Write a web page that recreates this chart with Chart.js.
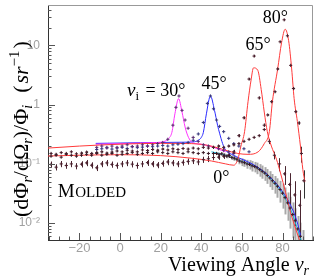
<!DOCTYPE html>
<html><head><meta charset="utf-8">
<script src="https://cdn.jsdelivr.net/npm/chart.js@4.4.1/dist/chart.umd.min.js"></script>
<style>html,body{margin:0;padding:0;background:#fff;}#wrap{width:318px;height:277px;position:relative;}</style>
</head><body><div id="wrap"><canvas id="c"></canvas></div>
<script>
// ---- axis ticks ----
const xTicks = [-20, 0, 20, 40, 60, 80];
const xTickLabels = ['−20', '0', '20', '40', '60', '80'];
const yTicks = [0.01, 0.1, 1, 10];
const yTickLabels = ['10⁻²', '10⁻¹', '1', '10'];

// ---- model curves ----
const m0X = [45, 48, 52, 56, 60, 64, 68, 72, 76, 79, 82, 84, 86, 88, 89.5];
const m0Y = [0.16, 0.152, 0.14, 0.125, 0.11, 0.097, 0.085, 0.066, 0.047, 0.0355, 0.024, 0.017, 0.011, 0.0068, 0.0048];

const m30X = [-12, -5, 0, 5, 10, 15, 20, 22.5, 24, 25.5, 27, 28.8, 30.5, 32, 33, 34.5, 36, 40, 44, 48, 52];
const m30Y = [0.215, 0.218, 0.22, 0.222, 0.225, 0.228, 0.232, 0.245, 0.27, 0.34, 0.7, 1.26, 0.75, 0.42, 0.32, 0.25, 0.225, 0.215, 0.2, 0.18, 0.16];

const m45X = [-12, 0, 10, 20, 30, 36, 38.5, 40, 41, 42.5, 44.5, 46.5, 48, 49, 50.5, 52, 55, 60, 65, 70, 75, 80, 84, 87, 89];
const m45Y = [0.222, 0.225, 0.228, 0.23, 0.232, 0.235, 0.25, 0.28, 0.34, 0.7, 1.4, 0.8, 0.45, 0.33, 0.22, 0.17, 0.145, 0.12, 0.1, 0.078, 0.055, 0.034, 0.02, 0.011, 0.006];

const m65X = [-35.5, -20, 0, 20, 35, 45, 52, 56, 58, 59.5, 61.3, 63, 64.5, 65.7, 67.8, 69.5, 71, 72.5, 74.5, 77, 79, 81.5, 84, 86.5, 88.5];
const m65Y = [0.136, 0.14, 0.143, 0.138, 0.125, 0.112, 0.1, 0.095, 0.12, 0.2, 0.35, 1.12, 2.6, 4.18, 3.8, 1.8, 0.75, 0.35, 0.2, 0.12, 0.07, 0.033, 0.015, 0.008, 0.005];

const m80X = [-35.5, -20, 0, 20, 35, 45, 52, 58, 63, 68, 71, 73.5, 75, 77.6, 79.5, 81.3, 83, 84.5, 85.7, 87.3, 88.8, 90, 91];
const m80Y = [0.185, 0.2, 0.215, 0.222, 0.22, 0.2, 0.17, 0.15, 0.145, 0.16, 0.22, 0.35, 1.12, 4.0, 11, 18.7, 12, 4.0, 1.27, 0.52, 0.2, 0.08, 0.05];

// ---- measured data ----
const d0X = [-34, -31.5, -29, -26.5, -24, -21.5, -19, -16.5, -14, -11.5, -9, -6.5, -4, -1.5, 1, 3.5, 6, 8.5, 11, 13.5, 16, 18.5, 21, 23.5, 26, 28.5, 31, 33.5, 36, 38.5, 41, 43.5, 46,
  47.5, 48.75, 50, 51.25, 52.5, 53.75, 55, 56.25, 57.5, 58.75, 60, 61.25, 62.5, 63.75, 65, 66.25, 67.5, 68.75, 70, 71.25, 72.5, 73.75, 75, 76.25, 77.5, 78.75, 80, 81.25, 82.5, 83.75, 85, 86.25, 87.5, 88.75, 90];
const d0Y = [0.135, 0.14, 0.13, 0.145, 0.14, 0.135, 0.14, 0.145, 0.14, 0.15, 0.14, 0.145, 0.15, 0.14, 0.145, 0.15, 0.155, 0.145, 0.15, 0.155, 0.15, 0.16, 0.155, 0.15, 0.16, 0.155, 0.15, 0.16, 0.155, 0.15, 0.155, 0.15, 0.15,
  0.15, 0.145, 0.148, 0.14, 0.135, 0.138, 0.128, 0.125, 0.12, 0.112, 0.108, 0.105, 0.1, 0.098, 0.093, 0.09, 0.086, 0.08, 0.075, 0.07, 0.064, 0.058, 0.052, 0.047, 0.042, 0.037, 0.032, 0.027, 0.022, 0.018, 0.014, 0.011, 0.008, 0.006, 0.0045];
const d0E = [0, 0, 0, 0, 0, 0, 0, 0, 0, 0, 0, 0, 0, 0, 0, 0, 0, 0, 0, 0, 0, 0, 0, 0, 0, 0, 0, 0, 0, 0, 0, 0, 0.03,
  0.05, 0.05, 0.06, 0.07, 0.08, 0.08, 0.09, 0.1, 0.1, 0.12, 0.15, 0.15, 0.17, 0.18, 0.2, 0.2, 0.22, 0.24, 0.25, 0.26, 0.28, 0.3, 0.3, 0.33, 0.36, 0.4, 0.45, 0.48, 0.5, 0.55, 0.6, 0.62, 0.65, 0.7, 0.7];

const d65X = [-34, -31.5, -29, -26.5, -24, -21.5, -19, -16.5, -14, -11.5, -9, -6.5, -4, -1.5, 1, 3.5, 6, 8.5, 11, 13.5, 16, 18.5, 21, 23.5, 26, 28.5, 31, 33.5, 36, 38.5, 41, 43.5, 46, 48.5, 51, 53.5, 56, 58.5, 61, 63.5, 66, 68.5, 71, 73.5, 76, 78.5, 81, 83.5, 86, 88.5];
const d65Y = [0.098, 0.088, 0.1, 0.094, 0.1, 0.092, 0.099, 0.104, 0.095, 0.086, 0.1, 0.104, 0.098, 0.094, 0.1, 0.104, 0.099, 0.094, 0.1, 0.105, 0.1, 0.096, 0.102, 0.108, 0.104, 0.1, 0.106, 0.11, 0.113, 0.108, 0.118, 0.122, 0.128, 0.13, 0.135, 0.14, 0.16, 0.3, 0.6, 2.7, 6.6, 1.3, 0.45, 0.24, 0.14, 0.1, 0.068, 0.045, 0.03, 0.02];
const d65E = [0.12, 0.12, 0.12, 0.12, 0.12, 0.12, 0.12, 0.12, 0.12, 0.12, 0.12, 0.12, 0.12, 0.12, 0.12, 0.12, 0.12, 0.12, 0.12, 0.12, 0.12, 0.12, 0.12, 0.12, 0.12, 0.12, 0.12, 0.12, 0.12, 0.12, 0.12, 0.12, 0.1, 0.1, 0.1, 0.1, 0.08, 0.06, 0.05, 0.04, 0.04, 0.05, 0.06, 0.1, 0.15, 0.25, 0.35, 0.55, 0.7, 0.8];

const d80X = [-34, -31.5, -29, -26.5, -24, -21.5, -19, -16.5, -14, -11.5, -9, -6.5, -4, -1.5, 1, 3.5, 6, 8.5, 11, 13.5, 16, 18.5, 21, 23.5, 26, 28.5, 31, 33.5, 36, 38.5, 41, 43.5, 46, 48.5, 51, 53.5, 56, 58.5, 61, 63.5, 66, 68.5, 71, 72.7, 74.6, 76.3, 77.6, 78.8, 80.8, 82.4, 84, 85.4, 86.5, 88.1, 89.3, 90.5];
const d80Y = [0.15, 0.145, 0.155, 0.15, 0.16, 0.148, 0.152, 0.158, 0.15, 0.155, 0.16, 0.152, 0.158, 0.165, 0.16, 0.17, 0.165, 0.16, 0.172, 0.168, 0.175, 0.17, 0.178, 0.172, 0.18, 0.175, 0.182, 0.178, 0.185, 0.18, 0.19, 0.185, 0.19, 0.2, 0.19, 0.2, 0.21, 0.22, 0.24, 0.26, 0.28, 0.3, 0.38, 0.67, 1.12, 1.65, 4.0, 11.5, 27, 14.5, 4.6, 1.87, 0.76, 0.49, 0.15, 0.052];
const d80E = [0.03, 0.03, 0.03, 0.03, 0.03, 0.03, 0.03, 0.03, 0.03, 0.03, 0.03, 0.03, 0.03, 0.03, 0.03, 0.03, 0.03, 0.03, 0.03, 0.03, 0.03, 0.03, 0.03, 0.03, 0.03, 0.03, 0.03, 0.03, 0.03, 0.03, 0.03, 0.03, 0.03, 0.03, 0.03, 0.03, 0.03, 0.03, 0.03, 0.03, 0.03, 0.03, 0.03, 0.03, 0.03, 0.03, 0.03, 0.03, 0.03, 0.03, 0.03, 0.03, 0.04, 0.06, 0.3, 0.5];

const d30X = [-11.5, -9, -6.5, -4, -1.5, 1, 3.5, 6, 8.5, 11, 13.5, 16, 18.5, 21, 23.5, 26, 27.5, 29, 30.5, 32, 33.5, 36, 38.5, 41, 43.5, 46, 48.5, 51, 53.5, 56];
const d30Y = [0.19, 0.2, 0.185, 0.2, 0.19, 0.2, 0.21, 0.195, 0.2, 0.21, 0.2, 0.21, 0.22, 0.23, 0.26, 0.45, 0.9, 1.4, 0.8, 0.55, 0.4, 0.28, 0.24, 0.21, 0.2, 0.19, 0.18, 0.17, 0.16, 0.15];

const d45X = [-11.5, -9, -6.5, -4, -1.5, 1, 3.5, 6, 8.5, 11, 13.5, 16, 18.5, 21, 23.5, 26, 28.5, 31, 33.5, 36, 38.5, 41, 43, 44.5, 46, 47.5, 49, 51, 53.5, 56, 58.5, 61, 63.5];
const d45Y = [0.175, 0.18, 0.19, 0.178, 0.185, 0.19, 0.182, 0.195, 0.188, 0.192, 0.2, 0.195, 0.2, 0.205, 0.2, 0.21, 0.215, 0.22, 0.23, 0.25, 0.32, 0.5, 1.05, 1.4, 0.85, 0.55, 0.43, 0.35, 0.27, 0.22, 0.2, 0.18, 0.16];

const pts = (xs, ys) => xs.map((x, i) => ({x, y: ys[i]}));

const errPlugin = {
  id: 'errbars',
  beforeDatasetsDraw(chart) {
    const {ctx, chartArea: a, scales: {x, y}} = chart;
    ctx.save();
    ctx.beginPath(); ctx.rect(a.left, a.top, a.right - a.left, a.bottom - a.top); ctx.clip();
    chart.data.datasets.forEach(ds => {
      if (!ds.errRel) return;
      ctx.strokeStyle = ds.errColor; ctx.lineWidth = ds.errWidth;
      ds.data.forEach((p, j) => {
        const e = ds.errRel[j];
        if (!e) return;
        const px = Math.round(x.getPixelForValue(p.x)) + 0.5;
        ctx.beginPath();
        ctx.moveTo(px, y.getPixelForValue(p.y * (1 - e)));
        ctx.lineTo(px, y.getPixelForValue(p.y * (1 + e)));
        ctx.stroke();
      });
    });
    ctx.restore();
  }
};

function rich(ctx, parts, x, y) {
  let cx = x;
  for (const p of parts) {
    ctx.font = p.f;
    ctx.fillText(p.t, cx, y + (p.dy || 0));
    cx += ctx.measureText(p.t).width + (p.sp || 0);
  }
  return cx - x;
}
function richW(ctx, parts) {
  let w = 0;
  for (const p of parts) { ctx.font = p.f; w += ctx.measureText(p.t).width + (p.sp || 0); }
  return w;
}

const SERIF = "'Liberation Serif', 'Times New Roman', serif";
const decoPlugin = {
  id: 'deco',
  afterDraw(chart) {
    const {ctx, chartArea: a, scales: {x, y}} = chart;
    ctx.save();
    // frame top/right
    ctx.strokeStyle = '#999'; ctx.lineWidth = 1;
    ctx.beginPath();
    ctx.moveTo(a.left, a.top + 0.5); ctx.lineTo(a.right - 0.5, a.top + 0.5); ctx.lineTo(a.right - 0.5, a.bottom);
    ctx.stroke();
    // inner ticks
    ctx.strokeStyle = '#555';
    ctx.beginPath();
    for (let d = -3; d <= 1; d++) {
      for (let m = 1; m <= 9; m++) {
        const v = m * Math.pow(10, d);
        if (v < y.min || v > y.max) continue;
        const py = Math.round(y.getPixelForValue(v)) + 0.5;
        const len = m === 1 ? 7 : 3.5;
        ctx.moveTo(a.left, py); ctx.lineTo(a.left + len, py);
      }
    }
    for (let v = -35; v <= 95; v += 5) {
      const px = Math.round(x.getPixelForValue(v)) + 0.5;
      const len = v % 20 === 0 ? 7 : 3.5;
      ctx.moveTo(px, a.bottom); ctx.lineTo(px, a.bottom - len);
    }
    ctx.stroke();

    ctx.fillStyle = '#000';
    ctx.textBaseline = 'alphabetic';
    // annotations
    const at = (dx, vy) => [x.getPixelForValue(dx), y.getPixelForValue(vy)];
    let [px, py] = at(3.4, 1.41);
    rich(ctx, [{t: 'ν', f: 'italic 19px ' + SERIF}, {t: 'i', f: '13px ' + SERIF, dy: 4, sp: 2}, {t: ' = 30°', f: '18px ' + SERIF}], px, py);
    [px, py] = at(40.1, 1.85);
    rich(ctx, [{t: '45°', f: '18px ' + SERIF}], px, py);
    [px, py] = at(61.8, 8.25);
    rich(ctx, [{t: '65°', f: '18px ' + SERIF}], px, py);
    [px, py] = at(70.2, 24.2);
    rich(ctx, [{t: '80°', f: '18px ' + SERIF}], px, py);
    [px, py] = at(45.9, 0.048);
    rich(ctx, [{t: '0°', f: '18px ' + SERIF}], px, py);
    [px, py] = at(-30.7, 0.0274);
    rich(ctx, [{t: 'M', f: '19px ' + SERIF, sp: 0.5}, {t: 'OLDED', f: '15px ' + SERIF}], px, py);

    // x title
    const xt = [{t: 'Viewing Angle ', f: '20px ' + SERIF}, {t: 'ν', f: 'italic 20px ' + SERIF}, {t: 'r', f: 'italic 14px ' + SERIF, dy: 4}];
    rich(ctx, xt, 309 - richW(ctx, xt), 271);

    // y title
    ctx.translate(28, 217);
    ctx.rotate(-Math.PI / 2);
    const yt = [
      {t: '(dΦ', f: '22px ' + SERIF}, {t: 'r', f: 'italic 14px ' + SERIF, dy: 4},
      {t: '/dΩ', f: '22px ' + SERIF}, {t: 'r', f: 'italic 14px ' + SERIF, dy: 4},
      {t: ')/Φ', f: '22px ' + SERIF}, {t: 'i', f: 'italic 14px ' + SERIF, dy: 4, sp: 12},
      {t: '(', f: '22px ' + SERIF, sp: 2}, {t: 'sr', f: 'italic 22px ' + SERIF}, {t: '−1', f: '15px ' + SERIF, dy: -9, sp: 2},
      {t: ')', f: '22px ' + SERIF}
    ];
    rich(ctx, yt, 0, 0);
    ctx.restore();
  }
};

const ptStyle = (col) => ({pointStyle: 'cross', pointRadius: 1.6, pointBorderWidth: 1, pointBorderColor: col, pointBackgroundColor: col, showLine: false});
const lineStyle = (col) => ({showLine: true, pointRadius: 0, borderColor: col, borderWidth: 1, cubicInterpolationMode: 'monotone', fill: false});

new Chart(document.getElementById('c'), {
  type: 'scatter',
  data: {
    datasets: [
      Object.assign({label: '0° data', data: pts(d0X, d0Y), errRel: d0E, errColor: '#a8a8a8', errWidth: 2}, ptStyle('#3a1a26')),
      Object.assign({label: '65° data', data: pts(d65X, d65Y), errRel: d65E, errColor: '#4a2530', errWidth: 1}, ptStyle('#4a1e2c')),
      Object.assign({label: '80° data', data: pts(d80X, d80Y), errRel: d80E, errColor: '#333', errWidth: 1}, ptStyle('#4a1e2c')),
      Object.assign({label: '30° data', data: pts(d30X, d30Y)}, ptStyle('#5a2a70')),
      Object.assign({label: '45° data', data: pts(d45X, d45Y)}, ptStyle('#34347a')),
      Object.assign({label: '65° model', data: pts(m65X, m65Y)}, lineStyle('#ff3a3a')),
      Object.assign({label: '80° model', data: pts(m80X, m80Y)}, lineStyle('#ff3a3a')),
      Object.assign({label: '30° model', data: pts(m30X, m30Y)}, lineStyle('#ff30ff')),
      Object.assign({label: '45° model', data: pts(m45X, m45Y)}, lineStyle('#2a2aff')),
      Object.assign({label: '0° model', data: pts(m0X, m0Y)}, lineStyle('#18b4d8'))
    ]
  },
  options: {
    responsive: true, maintainAspectRatio: false, animation: false,
    layout: {padding: {left: 0, right: 2, top: 2, bottom: 0}},
    plugins: {legend: {display: false}, tooltip: {enabled: false}},
    scales: {
      x: {
        type: 'linear', min: -35.5, max: 95,
        afterBuildTicks: s => { s.ticks = xTicks.map(v => ({value: v})); },
        afterFit: s => { s.height = 37; s.paddingLeft = 0; s.paddingRight = 0; },
        grid: {display: false, drawTicks: false},
        border: {display: true, color: '#333', width: 1},
        ticks: {padding: 1, color: '#a0a0a0', font: {family: "'Liberation Sans', Arial, sans-serif", size: 13}, maxRotation: 0, autoSkip: false,
          callback: (v, i) => xTickLabels[i]}
      },
      y: {
        type: 'logarithmic', min: 0.0052, max: 48,
        afterBuildTicks: s => { s.ticks = yTicks.map(v => ({value: v})); },
        afterFit: s => { s.width = 48; s.paddingTop = 0; s.paddingBottom = 0; },
        grid: {display: false, drawTicks: false},
        border: {display: true, color: '#333', width: 1},
        ticks: {padding: 8, color: '#a0a0a0', font: {family: "'Liberation Sans', Arial, sans-serif", size: 12}, autoSkip: false,
          callback: (v, i) => yTickLabels[i]}
      }
    }
  },
  plugins: [errPlugin, decoPlugin]
});
</script>
</body></html>
